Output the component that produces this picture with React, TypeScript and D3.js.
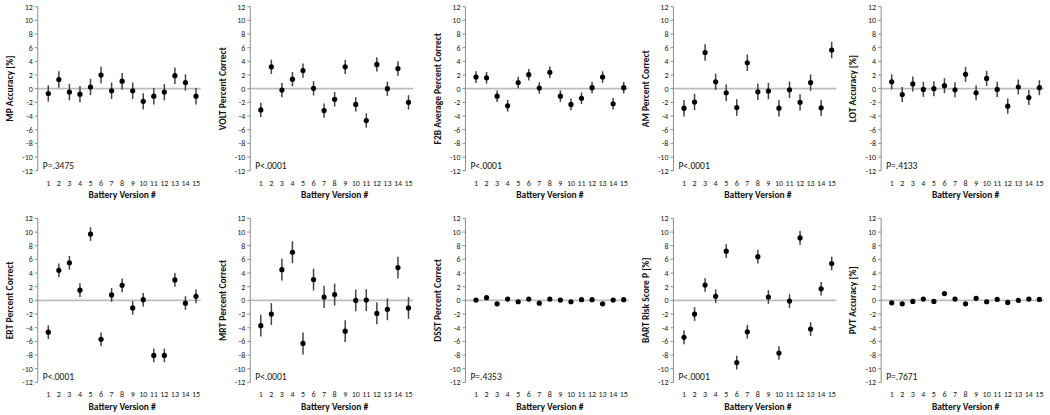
import React from "react";
import * as d3 from "d3";

const versions = [1, 2, 3, 4, 5, 6, 7, 8, 9, 10, 11, 12, 13, 14, 15];
const yTicks = [12, 10, 8, 6, 4, 2, 0, -2, -4, -6, -8, -10, -12];

const mpAccuracy = [-0.7, 1.35, -0.5, -0.8, 0.25, 2.0, -0.3, 1.1, -0.3, -1.85, -1.1, -0.5, 1.9, 0.9, -1.1];
const voltCorrect = [-3.1, 3.2, -0.2, 1.4, 2.65, 0.05, -3.2, -1.55, 3.2, -2.3, -4.65, 3.55, 0, 2.95, -2.0];
const f2bCorrect = [1.7, 1.6, -1.1, -2.5, 0.9, 2.05, 0.1, 2.4, -1.1, -2.3, -1.4, 0.15, 1.7, -2.2, 0.15];
const amCorrect = [-2.85, -1.95, 5.3, 1.0, -0.6, -2.75, 3.8, -0.45, -0.35, -2.85, -0.15, -2.0, 0.9, -2.8, 5.65];
const lotAccuracy = [1.0, -0.85, 0.7, -0.1, 0, 0.45, -0.15, 2.1, -0.6, 1.5, -0.1, -2.55, 0.25, -1.3, 0.15];
const ertCorrect = [-4.65, 4.4, 5.5, 1.5, 9.7, -5.7, 0.8, 2.2, -1.1, 0.1, -8.05, -8.05, 3.0, -0.4, 0.6];
const mrtCorrect = [-3.7, -2.0, 4.5, 7.05, -6.3, 3.05, 0.5, 0.85, -4.5, 0, 0.05, -1.9, -1.3, 4.8, -1.1];
const dsstCorrect = [0.05, 0.4, -0.5, 0.2, -0.2, 0.2, -0.4, 0.2, 0.05, -0.2, 0.1, 0.1, -0.5, 0.05, 0.1];
const bartRisk = [-5.4, -2.0, 2.25, 0.6, 7.2, -9.1, -4.6, 6.4, 0.5, -7.7, -0.1, 9.15, -4.2, 1.7, 5.4];
const pvtAccuracy = [-0.35, -0.5, -0.15, 0.2, -0.15, 1.0, 0.2, -0.5, 0.3, -0.2, 0.15, -0.3, 0, 0.2, 0.15];

const panelTitles = [
  "MP Accuracy [%]", "VOLT Percent Correct", "F2B Average Percent Correct", "AM Percent Correct", "LOT Accuracy [%]",
  "ERT Percent Correct", "MRT Percent Correct", "DSST Percent Correct", "BART Risk Score P [%]", "PVT Accuracy [%]",
];
const panelValues = [mpAccuracy, voltCorrect, f2bCorrect, amCorrect, lotAccuracy, ertCorrect, mrtCorrect, dsstCorrect, bartRisk, pvtAccuracy];
const panelErrors = [1.2, 1.05, 0.85, 1.2, 1.1, 1.0, 1.6, 0.25, 1.0, 0.3];
const panelP = ["P=.3475", "P<.0001", "P<.0001", "P<.0001", "P=.4133", "P<.0001", "P<.0001", "P=.4353", "P<.0001", "P=.7671"];

const colX1 = [48.3, 260.8, 476, 684, 891.7];
const rowTop = [6.7, 218.4];
const plotH = 164;
const step = 10.55;
const FONT = "Carlito, Calibri, Lato, sans-serif";

function Panel({ idx }: { idx: number }) {
  const col = idx % 5;
  const row = Math.floor(idx / 5);
  const x = d3.scaleLinear().domain([1, 15]).range([colX1[col], colX1[col] + 14 * step]);
  const y = d3.scaleLinear().domain([12, -12]).range([rowTop[row], rowTop[row] + plotH]);
  const vals = panelValues[idx];
  const err = panelErrors[idx];
  const ax = x(0);
  return (
    <g>
      <line x1={ax} x2={x(15.45)} y1={y(0)} y2={y(0)} stroke="#bdbdbd" strokeWidth={1.8} />
      <line x1={ax} x2={ax} y1={y(12)} y2={y(-12)} stroke="#8c8c8c" strokeWidth={1} />
      {yTicks.map((t) => (
        <g key={t}>
          <line x1={ax - 3} x2={ax} y1={y(t)} y2={y(t)} stroke="#8c8c8c" strokeWidth={1} />
          <text x={ax - 5} y={y(t)} dy="0.35em" textAnchor="end" fontSize={8} fill="#222" fontFamily={FONT}>
            {t}
          </text>
        </g>
      ))}
      {versions.map((v) => (
        <text key={v} x={x(v)} y={y(-12) + 12} dy="0.35em" textAnchor="middle" fontSize={8} fill="#222" fontFamily={FONT}>
          {v}
        </text>
      ))}
      <text x={(x(1) + x(15)) / 2} y={y(-12) + 24} dy="0.35em" textAnchor="middle" fontSize={9.5} fontWeight="bold" fill="#111" fontFamily={FONT}>
        Battery Version #
      </text>
      <text
        transform={`translate(${ax - 28},${y(0)}) rotate(-90)`}
        dy="0.35em"
        textAnchor="middle"
        fontSize={9.5}
        fontWeight="bold"
        fill="#111"
        fontFamily={FONT}
      >
        {panelTitles[idx]}
      </text>
      <text x={ax + 5} y={y(-11.2)} dy="0.35em" fontSize={9.5} fill="#111" fontFamily={FONT}>
        {panelP[idx]}
      </text>
      {vals.map((v, i) => (
        <g key={i}>
          <line x1={x(versions[i])} x2={x(versions[i])} y1={y(v - err)} y2={y(v + err)} stroke="#444" strokeWidth={1.5} />
          <circle cx={x(versions[i])} cy={y(v)} r={2.6} fill="#000" />
        </g>
      ))}
    </g>
  );
}

export default function App() {
  return (
    <svg width={1050} height={415} style={{ position: "absolute", left: 0, top: 0, background: "#fff" }}>
      <rect width={1050} height={415} fill="#fff" />
      {panelTitles.map((_, i) => (
        <Panel key={i} idx={i} />
      ))}
    </svg>
  );
}
